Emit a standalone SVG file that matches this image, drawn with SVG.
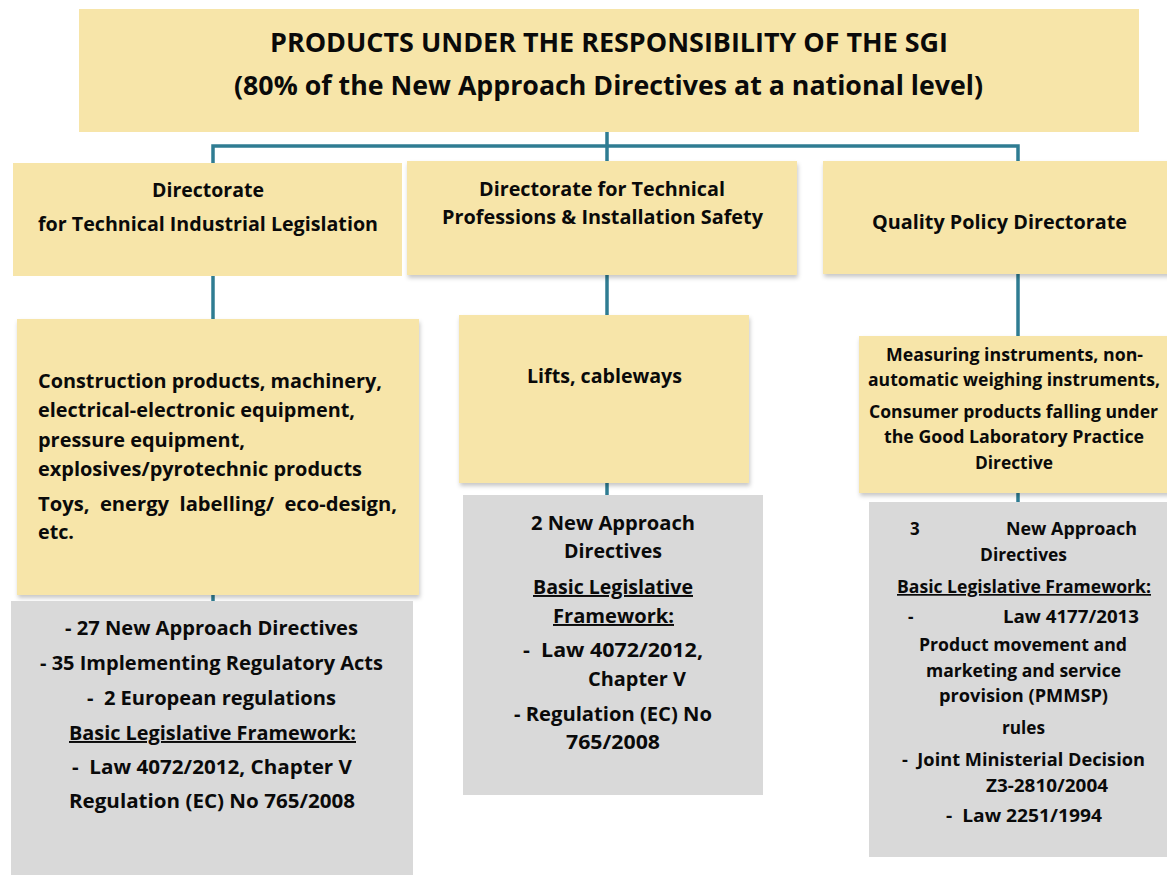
<svg xmlns="http://www.w3.org/2000/svg" width="1167" height="875" viewBox="0 0 1167 875">
  <defs>
    <filter id="shadow" x="-5%" y="-5%" width="110%" height="115%">
      <feDropShadow dx="1" dy="3" stdDeviation="2" flood-color="#000" flood-opacity="0.22"/>
    </filter>
    <style>
      .yel { fill: #F7E5A9; }
      .gry { fill: #D9D9D9; }
      .link { fill: none; stroke: #2F7C92; stroke-width: 3.5; }
      text { font-family: "Open Sans", "Noto Sans", "Liberation Sans", sans-serif; font-weight: bold; fill: #0a0a0a; }
      .t20 { font-size: 19.5px; }
      .t18 { font-size: 17px; }
      .title { font-size: 26px; }
      .u { text-decoration: underline; }
    </style>
  </defs>

  <rect width="1167" height="875" fill="#ffffff"/>

  <!-- connectors -->
  <g id="connectors">
    <path class="link" d="M607 132 V163 M213 163 V146 H1018 V162"/>
    <path class="link" d="M213 276 V601"/>
    <path class="link" d="M607 275 V495"/>
    <path class="link" d="M1018 274 V502"/>
  </g>

  <!-- header -->
  <g id="header">
    <rect class="yel" x="79" y="9" width="1060" height="123"/>
    <text class="title" x="270" y="52" textLength="678" lengthAdjust="spacingAndGlyphs">PRODUCTS UNDER THE RESPONSIBILITY OF THE SGI</text>
    <text class="title" x="234" y="95" textLength="749" lengthAdjust="spacingAndGlyphs">(80% of the New Approach Directives at a national level)</text>
  </g>

  <!-- directorates -->
  <g id="dir-legislation">
    <rect class="yel" x="13" y="163" width="389" height="113"/>
    <text class="t20" x="152" y="197" textLength="112" lengthAdjust="spacingAndGlyphs">Directorate</text>
    <text class="t20" x="38" y="231" textLength="340" lengthAdjust="spacingAndGlyphs">for Technical Industrial Legislation</text>
  </g>

  <g id="dir-professions">
    <rect class="yel" x="407" y="161" width="390" height="114" filter="url(#shadow)"/>
    <text class="t20" x="479" y="196" textLength="246" lengthAdjust="spacingAndGlyphs">Directorate for Technical</text>
    <text class="t20" x="442" y="224" textLength="321" lengthAdjust="spacingAndGlyphs">Professions &amp; Installation Safety</text>
  </g>

  <g id="dir-quality">
    <rect class="yel" x="823" y="161" width="350" height="113" filter="url(#shadow)"/>
    <text class="t20" x="872" y="229" textLength="255" lengthAdjust="spacingAndGlyphs">Quality Policy Directorate</text>
  </g>

  <!-- product groups -->
  <g id="products-legislation">
    <rect class="yel" x="17" y="319" width="402" height="276" filter="url(#shadow)"/>
    <text class="t20" x="38" y="388" textLength="344" lengthAdjust="spacingAndGlyphs">Construction products, machinery,</text>
    <text class="t20" x="38" y="417" textLength="317" lengthAdjust="spacingAndGlyphs">electrical-electronic equipment,</text>
    <text class="t20" x="38" y="447" textLength="207" lengthAdjust="spacingAndGlyphs">pressure equipment,</text>
    <text class="t20" x="38" y="476" textLength="324" lengthAdjust="spacingAndGlyphs">explosives/pyrotechnic products</text>
    <text class="t20" x="38" y="511" textLength="359" lengthAdjust="spacingAndGlyphs" xml:space="preserve">Toys,  energy  labelling/  eco-design,</text>
    <text class="t20" x="38" y="539" textLength="36" lengthAdjust="spacingAndGlyphs">etc.</text>
  </g>

  <g id="products-professions">
    <rect class="yel" x="459" y="315" width="290" height="168" filter="url(#shadow)"/>
    <text class="t20" x="527" y="383" textLength="155" lengthAdjust="spacingAndGlyphs">Lifts, cableways</text>
  </g>

  <g id="products-quality">
    <rect class="yel" x="859" y="336" width="314" height="157" filter="url(#shadow)"/>
    <text class="t18" x="886" y="361" textLength="257" lengthAdjust="spacingAndGlyphs">Measuring instruments, non-</text>
    <text class="t18" x="868" y="386" textLength="292" lengthAdjust="spacingAndGlyphs">automatic weighing instruments,</text>
    <text class="t18" x="869" y="418" textLength="289" lengthAdjust="spacingAndGlyphs">Consumer products falling under</text>
    <text class="t18" x="884" y="443" textLength="260" lengthAdjust="spacingAndGlyphs">the Good Laboratory Practice</text>
    <text class="t18" x="975" y="469" textLength="78" lengthAdjust="spacingAndGlyphs">Directive</text>
  </g>

  <!-- legislative frameworks -->
  <g id="framework-legislation">
    <rect class="gry" x="11" y="601" width="402" height="274"/>
    <text class="t20" x="65" y="635" textLength="293" lengthAdjust="spacingAndGlyphs">- 27 New Approach Directives</text>
    <text class="t20" x="40" y="670" textLength="343" lengthAdjust="spacingAndGlyphs">- 35 Implementing Regulatory Acts</text>
    <text class="t20" x="87" y="705" textLength="249" lengthAdjust="spacingAndGlyphs" xml:space="preserve">-  2 European regulations</text>
    <text class="t20 u" x="69" y="740" textLength="287" lengthAdjust="spacingAndGlyphs">Basic Legislative Framework:</text>
    <text class="t20" x="72" y="774" textLength="280" lengthAdjust="spacingAndGlyphs" xml:space="preserve">-  Law 4072/2012, Chapter V</text>
    <text class="t20" x="69" y="808" textLength="286" lengthAdjust="spacingAndGlyphs">Regulation (EC) No 765/2008</text>
  </g>

  <g id="framework-professions">
    <rect class="gry" x="463" y="495" width="300" height="300"/>
    <text class="t20" x="531" y="530" textLength="164" lengthAdjust="spacingAndGlyphs">2 New Approach</text>
    <text class="t20" x="564" y="558" textLength="98" lengthAdjust="spacingAndGlyphs">Directives</text>
    <text class="t20 u" x="533" y="594" textLength="160" lengthAdjust="spacingAndGlyphs">Basic Legislative</text>
    <text class="t20 u" x="553" y="623" textLength="121" lengthAdjust="spacingAndGlyphs">Framework:</text>
    <text class="t20" x="523" y="657" textLength="180" lengthAdjust="spacingAndGlyphs" xml:space="preserve">-  Law 4072/2012,</text>
    <text class="t20" x="588" y="686" textLength="98" lengthAdjust="spacingAndGlyphs">Chapter V</text>
    <text class="t20" x="514" y="721" textLength="198" lengthAdjust="spacingAndGlyphs">- Regulation (EC) No</text>
    <text class="t20" x="566" y="749" textLength="94" lengthAdjust="spacingAndGlyphs">765/2008</text>
  </g>

  <g id="framework-quality">
    <rect class="gry" x="869" y="502" width="298" height="355"/>
    <text class="t18" x="910" y="535">3</text>
    <text class="t18" x="1006" y="535" textLength="131" lengthAdjust="spacingAndGlyphs">New Approach</text>
    <text class="t18" x="980" y="561" textLength="87" lengthAdjust="spacingAndGlyphs">Directives</text>
    <text class="t18 u" x="897" y="593" textLength="254" lengthAdjust="spacingAndGlyphs">Basic Legislative Framework:</text>
    <text class="t18" x="908" y="623">-</text>
    <text class="t18" x="1003" y="623" textLength="136" lengthAdjust="spacingAndGlyphs">Law 4177/2013</text>
    <text class="t18" x="919" y="651" textLength="208" lengthAdjust="spacingAndGlyphs">Product movement and</text>
    <text class="t18" x="926" y="677" textLength="195" lengthAdjust="spacingAndGlyphs">marketing and service</text>
    <text class="t18" x="939" y="702" textLength="169" lengthAdjust="spacingAndGlyphs">provision (PMMSP)</text>
    <text class="t18" x="1002" y="734" textLength="43" lengthAdjust="spacingAndGlyphs">rules</text>
    <text class="t18" x="902" y="766" textLength="243" lengthAdjust="spacingAndGlyphs" xml:space="preserve">-  Joint Ministerial Decision</text>
    <text class="t18" x="986" y="792" textLength="122" lengthAdjust="spacingAndGlyphs">Z3-2810/2004</text>
    <text class="t18" x="946" y="822" textLength="156" lengthAdjust="spacingAndGlyphs" xml:space="preserve">-  Law 2251/1994</text>
  </g>
</svg>
